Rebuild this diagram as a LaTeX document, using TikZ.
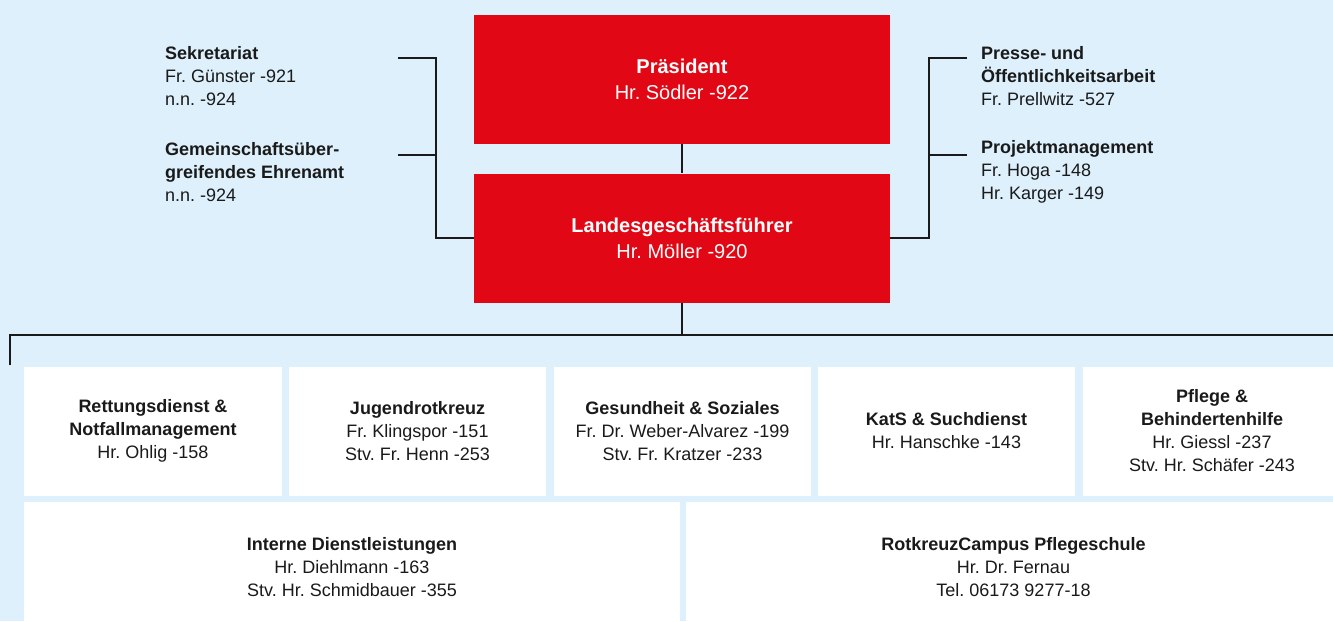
\documentclass[tikz,border=0pt]{standalone}
\usepackage{fontspec}
\setmainfont{Liberation Sans}
\frenchspacing
\definecolor{bg}{RGB}{221,240,252}
\definecolor{drkred}{RGB}{226,7,20}
\definecolor{ink}{RGB}{26,26,26}
\begin{document}
\frenchspacing
\begin{tikzpicture}[x=1pt,y=-1pt,
  redbox/.style={fill=drkred,text=white,minimum width=416pt,minimum height=129pt,inner sep=0pt,align=center,font=\fontsize{20}{26}\selectfont},
  unitbox/.style={fill=white,text=ink,minimum width=258pt,minimum height=129pt,inner sep=0pt,align=center,font=\fontsize{18}{23}\selectfont},
  widebox/.style={unitbox,minimum height=130pt},
  sidetext/.style={text=ink,inner sep=0pt,align=left,anchor=west,font=\fontsize{18}{23}\selectfont},
  conn/.style={draw=ink,line width=2.6pt}]
\useasboundingbox (0,0) rectangle (1333,621);
\clip (0,0) rectangle (1333,621);
\fill[bg] (0,0) rectangle (1333,621);

% top boxes
\node[redbox] (praes) at (682,79) {\textbf{Präsident}\\Hr. Södler -922};
\node[redbox] (lgf) at (682,238) {\textbf{Landesgeschäftsführer}\\Hr. Möller -920};

% side texts
\node[sidetext] (sek) at (165,76) {\textbf{Sekretariat}\\Fr. Günster -921\\n.n. -924};
\node[sidetext] (ehren) at (165,172) {\textbf{Gemeinschaftsüber-}\\\textbf{greifendes Ehrenamt}\\n.n. -924};
\node[sidetext] (presse) at (981,76) {\textbf{Presse- und}\\\textbf{Öffentlichkeitsarbeit}\\Fr. Prellwitz -527};
\node[sidetext] (projekt) at (981,172) {\textbf{Projektmanagement}\\Fr. Hoga -148\\Hr. Karger -149};

% row 1
\node[unitbox] (rett) at (153,431) {\textbf{Rettungsdienst \&}\\\textbf{Notfallmanagement}\\Hr. Ohlig -158};
\node[unitbox,minimum width=257pt] (jrk) at (417.5,431) {\textbf{Jugendrotkreuz}\\Fr. Klingspor -151\\Stv. Fr. Henn -253};
\node[unitbox,minimum width=257pt] (ges) at (682.5,431) {\textbf{Gesundheit \& Soziales}\\Fr. Dr. Weber-Alvarez -199\\Stv. Fr. Kratzer -233};
\node[unitbox,minimum width=257pt] (kats) at (946.5,431) {\textbf{KatS \& Suchdienst}\\Hr. Hanschke -143};
\node[unitbox] (pflege) at (1212,431) {\textbf{Pflege \&}\\\textbf{Behindertenhilfe}\\Hr. Giessl -237\\Stv. Hr. Schäfer -243};

% row 2
\node[widebox,minimum width=656pt] (intern) at (352,567) {\textbf{Interne Dienstleistungen}\\Hr. Diehlmann -163\\Stv. Hr. Schmidbauer -355};
\node[widebox,minimum width=655pt] (campus) at (1013.5,567) {\textbf{RotkreuzCampus Pflegeschule}\\Hr. Dr. Fernau\\Tel. 06173 9277-18};

% connectors
\coordinate (l1) at (398,58);
\coordinate (l2) at (398,155);
\coordinate (r1) at (967,58);
\coordinate (r2) at (967,155);
\coordinate (busL) at (10,365);
\coordinate (busR) at (1333,335);
\draw[conn] (praes.south) -- (lgf.north);
\draw[conn] (l1) -- ++(38,0) |- (lgf.west);
\draw[conn] (l2) -- ++(38,0);
\draw[conn] (r1) -- ++(-38,0) |- (lgf.east);
\draw[conn] (r2) -- ++(-38,0);
\draw[conn] (lgf.south) -- ++(0,33);
\draw[conn] (busL) |- (busR);
\end{tikzpicture}
\end{document}
